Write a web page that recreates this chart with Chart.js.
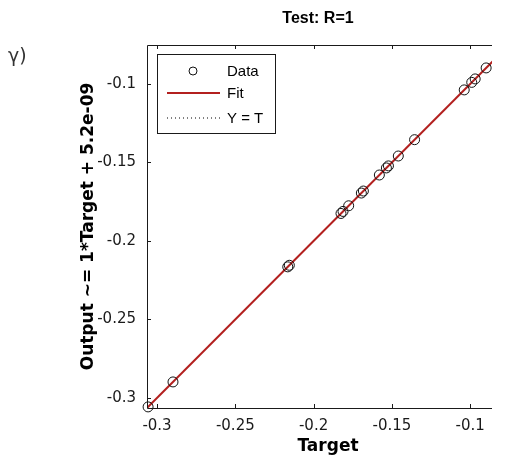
<!DOCTYPE html>
<html>
<head>
<meta charset="utf-8">
<script src="https://cdn.jsdelivr.net/npm/chart.js@4"></script>
<style>
  body { margin: 0; background: #fff; }
  #wrap { width: 492px; height: 462px; overflow: hidden; }
</style>
</head>
<body>
<div id="wrap"><canvas id="reg" width="515" height="462"></canvas></div>
<script>
// test set: targets and network outputs
const targets = [-0.3057, -0.2898, -0.2165, -0.2155, -0.1825, -0.1812, -0.1776, -0.1695, -0.1682,
                 -0.1580, -0.1535, -0.1522, -0.1459, -0.1355, -0.1038, -0.0990, -0.0968, -0.0898];
const outputs = [-0.3057, -0.2898, -0.2165, -0.2155, -0.1825, -0.1812, -0.1776, -0.1695, -0.1682,
                 -0.1580, -0.1535, -0.1522, -0.1459, -0.1355, -0.1038, -0.0990, -0.0968, -0.0898];
const axisLim = [-0.3064, -0.0752];
const fitSlope = 1;
const fitOffset = 5.2e-09;
const xTicks = [-0.3, -0.25, -0.2, -0.15, -0.1];
const yTicks = [-0.3, -0.25, -0.2, -0.15, -0.1];

const pts = targets.map((t, i) => ({ x: t, y: outputs[i] }));
const fitPts = axisLim.map(t => ({ x: t, y: fitSlope * t + fitOffset }));
const idPts = axisLim.map(t => ({ x: t, y: t }));

const FONT = '"DejaVu Sans", Arial, sans-serif';
const ARIAL = '"Liberation Sans", Arial, sans-serif';

const frame = {
  id: 'frame',
  afterDraw(chart) {
    const { ctx, chartArea: a, scales: { x, y } } = chart;
    ctx.save();
    ctx.strokeStyle = '#1a1a1a';
    ctx.lineWidth = 1;
    ctx.beginPath();
    ctx.rect(a.left + 0.5, a.top + 0.5, a.right - a.left, a.bottom - a.top);
    xTicks.forEach(v => {
      const px = Math.round(x.getPixelForValue(v)) + 0.5;
      ctx.moveTo(px, a.bottom); ctx.lineTo(px, a.bottom - 4);
      ctx.moveTo(px, a.top); ctx.lineTo(px, a.top + 4);
    });
    yTicks.forEach(v => {
      const py = Math.round(y.getPixelForValue(v)) + 0.5;
      ctx.moveTo(a.left, py); ctx.lineTo(a.left + 4, py);
      ctx.moveTo(a.right, py); ctx.lineTo(a.right - 4, py);
    });
    ctx.stroke();

    // title and panel label
    ctx.fillStyle = '#000';
    ctx.font = 'bold 16px ' + ARIAL;
    ctx.textAlign = 'center';
    ctx.textBaseline = 'middle';
    ctx.fillText('Test: R=1', a.left + 171, 19);
    ctx.fillStyle = '#333';
    ctx.font = '19px ' + FONT;
    ctx.textAlign = 'left';
    ctx.fillText('γ)', 8, 57);

    // legend box
    const lx = a.left + 10, ly = a.top + 9, lw = 118, lh = 79;
    ctx.fillStyle = '#fff';
    ctx.fillRect(lx, ly, lw, lh);
    ctx.strokeStyle = '#1a1a1a';
    ctx.strokeRect(lx + 0.5, ly + 0.5, lw, lh);
    const ds = chart.data.datasets;
    const rows = [17, 39, 64];
    ctx.font = '15px ' + ARIAL;
    ctx.fillStyle = '#000';
    ds.forEach((d, i) => {
      const cy = ly + rows[i];
      ctx.save();
      ctx.strokeStyle = d.borderColor;
      ctx.lineWidth = d.borderWidth;
      ctx.setLineDash(d.borderDash || []);
      ctx.beginPath();
      if (d.showLine) {
        ctx.moveTo(lx + 10, cy); ctx.lineTo(lx + 63, cy);
      } else {
        ctx.arc(lx + 36, cy, 4, 0, Math.PI * 2);
      }
      ctx.stroke();
      ctx.restore();
      ctx.fillText(d.label, lx + 70, cy + 1);
    });
    ctx.restore();
  }
};

new Chart(document.getElementById('reg'), {
  type: 'scatter',
  data: {
    datasets: [
      {
        label: 'Data', data: pts, showLine: false, clip: 8,
        pointStyle: 'circle', pointRadius: 5, pointBorderWidth: 1,
        borderColor: '#111', borderWidth: 1, backgroundColor: 'rgba(0,0,0,0)', order: 1
      },
      {
        label: 'Fit', data: fitPts, showLine: true, pointRadius: 0,
        borderColor: '#b3201f', borderWidth: 2, order: 2
      },
      {
        label: 'Y = T', data: idPts, showLine: true, pointRadius: 0,
        borderColor: '#000', borderWidth: 1, borderDash: [1, 3], order: 3
      }
    ]
  },
  options: {
    responsive: false,
    animation: false,
    layout: { padding: { top: 45, right: 5, left: 0, bottom: 0 } },
    plugins: { legend: { display: false }, tooltip: { enabled: false } },
    scales: {
      x: {
        type: 'linear', min: axisLim[0], max: axisLim[1],
        grid: { display: false }, border: { display: false },
        afterBuildTicks: s => { s.ticks = xTicks.map(v => ({ value: v })); },
        afterFit: s => { s.height = 54; },
        ticks: { color: '#1a1a1a', font: { family: FONT, size: 15 }, padding: 1, callback: v => String(v) },
        title: { display: true, text: 'Target', color: '#000', font: { family: FONT, size: 17, weight: 'bold' }, padding: { top: 0, bottom: 5 } }
      },
      y: {
        type: 'linear', min: axisLim[0], max: axisLim[1],
        grid: { display: false }, border: { display: false },
        afterBuildTicks: s => { s.ticks = yTicks.map(v => ({ value: v })); },
        afterFit: s => { s.width = 147; },
        ticks: { color: '#1a1a1a', font: { family: FONT, size: 15 }, padding: 3, callback: v => String(v) },
        title: { display: true, text: 'Output ~= 1*Target + 5.2e-09', color: '#000', font: { family: FONT, size: 17, weight: 'bold' }, padding: { top: 78, bottom: 0 } }
      }
    }
  },
  plugins: [frame]
});
</script>
</body>
</html>
